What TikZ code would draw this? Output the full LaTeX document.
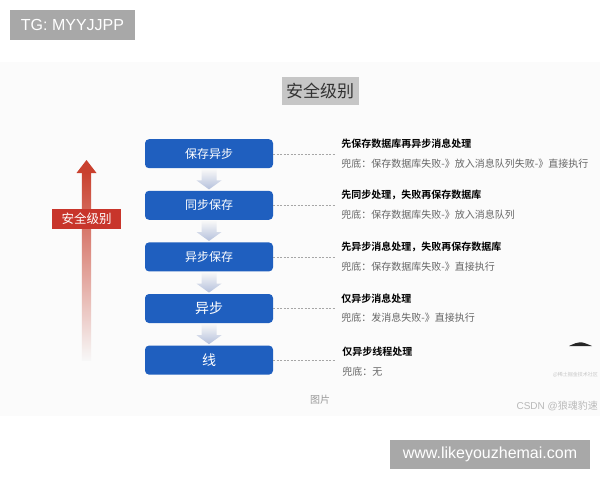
\documentclass[tikz,border=0pt]{standalone}
\usepackage{fontspec}
\setmainfont{Liberation Sans}
\newfontfamily\cjk{Noto Sans CJK SC}[BoldFont={Noto Sans CJK SC Bold}]
\usetikzlibrary{positioning}

\definecolor{boxblue}{HTML}{1F5FBF}
\definecolor{arrowred}{HTML}{C9402E}
\definecolor{labelred}{HTML}{C8352B}
\definecolor{taggray}{HTML}{A8A8A8}
\definecolor{titlegray}{HTML}{C6C6C6}
\definecolor{flowblue}{HTML}{B4C0DC}
\definecolor{subgray}{HTML}{666666}

\begin{document}
\begin{tikzpicture}[x=1pt,y=-1pt,
    level/.style={anchor=north,fill=boxblue,rounded corners=4pt,minimum width=128pt,minimum height=29pt,inner sep=0pt,text=white,font=\cjk\fontsize{12}{12}\selectfont},
    head/.style={anchor=west,inner sep=0pt,font=\cjk\bfseries\fontsize{10}{10}\selectfont},
    fallback/.style={anchor=west,inner sep=0pt,text=subgray,font=\cjk\fontsize{10}{10}\selectfont},
    link/.style={draw=gray!70,dash pattern=on 2pt off 1.5pt,thin},
    flow/.style={top color=gray!6,bottom color=flowblue},
    wmark/.style={fill=taggray,text=white,inner sep=0pt,font=\fontsize{16}{16}\selectfont}]

    \useasboundingbox (0,0) rectangle (600,480);
    \fill[gray!3] (0,62) rectangle (600,416);

    \node[wmark,minimum width=125pt,minimum height=30pt] (tg) at (72.5,25) {TG: MYYJJPP};
    \node[wmark,minimum width=200pt,minimum height=29pt] (site) at (490,454.5) {www.likeyouzhemai.com};

    \node[fill=titlegray,text=black!80,inner sep=2pt,minimum width=77pt,minimum height=28pt,font=\cjk\fontsize{17}{17}\selectfont] (title) at (320,91) {安全级别};

    % safety arrow
    \coordinate (tip) at (86.5,160);
    \coordinate (foot) at (86.5,360);
    \shade[top color=arrowred,bottom color=gray!6] ([xshift=-4.7pt,yshift=-12pt]tip) rectangle ([xshift=4.7pt]foot);
    \fill[arrowred] (tip) -- ([xshift=10pt,yshift=-13pt]tip) -- ([xshift=-10pt,yshift=-13pt]tip) -- cycle;
    \node[fill=labelred,text=white,minimum width=69pt,minimum height=20pt,inner sep=0pt,font=\cjk\fontsize{12.5}{12.5}\selectfont] (lvl) at (86.5,219) {安全级别};

    % levels
    \node[level] (b1) at (209,139) {保存异步};
    \node[level] (b2) at ([yshift=-22.2pt]b1.south) {同步保存};
    \node[level] (b3) at ([yshift=-22.2pt]b2.south) {异步保存};
    \node[level,font=\cjk\fontsize{14}{14}\selectfont] (b4) at ([yshift=-22.2pt]b3.south) {异步};
    \node[level,font=\cjk\fontsize{14}{14}\selectfont] (b5) at ([yshift=-22.2pt]b4.south) {线};

    \shade[flow,shift={(b1.south)}] (-7.5,1) -- (7.5,1) -- (7.5,12) -- (12.5,12) -- (0,21) -- (-12.5,12) -- (-7.5,12) -- cycle;
    \shade[flow,shift={(b2.south)}] (-7.5,1) -- (7.5,1) -- (7.5,12) -- (12.5,12) -- (0,21) -- (-12.5,12) -- (-7.5,12) -- cycle;
    \shade[flow,shift={(b3.south)}] (-7.5,1) -- (7.5,1) -- (7.5,12) -- (12.5,12) -- (0,21) -- (-12.5,12) -- (-7.5,12) -- cycle;
    \shade[flow,shift={(b4.south)}] (-7.5,1) -- (7.5,1) -- (7.5,12) -- (12.5,12) -- (0,21) -- (-12.5,12) -- (-7.5,12) -- cycle;

    % descriptions
    \draw[link] (b1.east) -- ([xshift=62pt]b1.east) coordinate (d1);
    \draw[link] (b2.east) -- ([xshift=62pt]b2.east) coordinate (d2);
    \draw[link] (b3.east) -- ([xshift=62pt]b3.east) coordinate (d3);
    \draw[link] (b4.east) -- ([xshift=62pt]b4.east) coordinate (d4);
    \draw[link] (b5.east) -- ([xshift=62pt]b5.east) coordinate (d5);

    \node[head] (h1) at ([xshift=6pt,yshift=10pt]d1) {先保存数据库再异步消息处理};
    \node[fallback] (f1) at ([xshift=6pt,yshift=-9.5pt]d1) {兜底：保存数据库失败-》放入消息队列失败-》直接执行};
    \node[head] (h2) at ([xshift=6pt,yshift=10pt]d2) {先同步处理，失败再保存数据库};
    \node[fallback] (f2) at ([xshift=6pt,yshift=-9.5pt]d2) {兜底：保存数据库失败-》放入消息队列};
    \node[head] (h3) at ([xshift=6pt,yshift=10pt]d3) {先异步消息处理，失败再保存数据库};
    \node[fallback] (f3) at ([xshift=6pt,yshift=-9.5pt]d3) {兜底：保存数据库失败-》直接执行};
    \node[head] (h4) at ([xshift=6pt,yshift=10pt]d4) {仅异步消息处理};
    \node[fallback] (f4) at ([xshift=6pt,yshift=-9.5pt]d4) {兜底：发消息失败-》直接执行};
    \node[head] (h5) at ([xshift=7pt,yshift=8pt]d5) {仅异步线程处理};
    \node[fallback] (f5) at ([xshift=7pt,yshift=-11.5pt]d5) {兜底：无};

    \node[text=gray!80,inner sep=0pt,font=\cjk\fontsize{10}{10}\selectfont] (cap) at (320,400) {图片};
    \node[anchor=east,text=gray!55,inner sep=0pt,font=\fontsize{10}{10}\selectfont] (csdn) at (598,406) {CSDN @{\cjk 狼魂豹速}};

    % cut-off corner
    \fill[black!85] (569,346) .. controls (580,341) .. (592,346) -- cycle;
    \node[anchor=west,text=gray!45,inner sep=0pt,font=\cjk\fontsize{5}{5}\selectfont] (mark) at (553,375) {@稀土掘金技术社区};
\end{tikzpicture}
\end{document}
